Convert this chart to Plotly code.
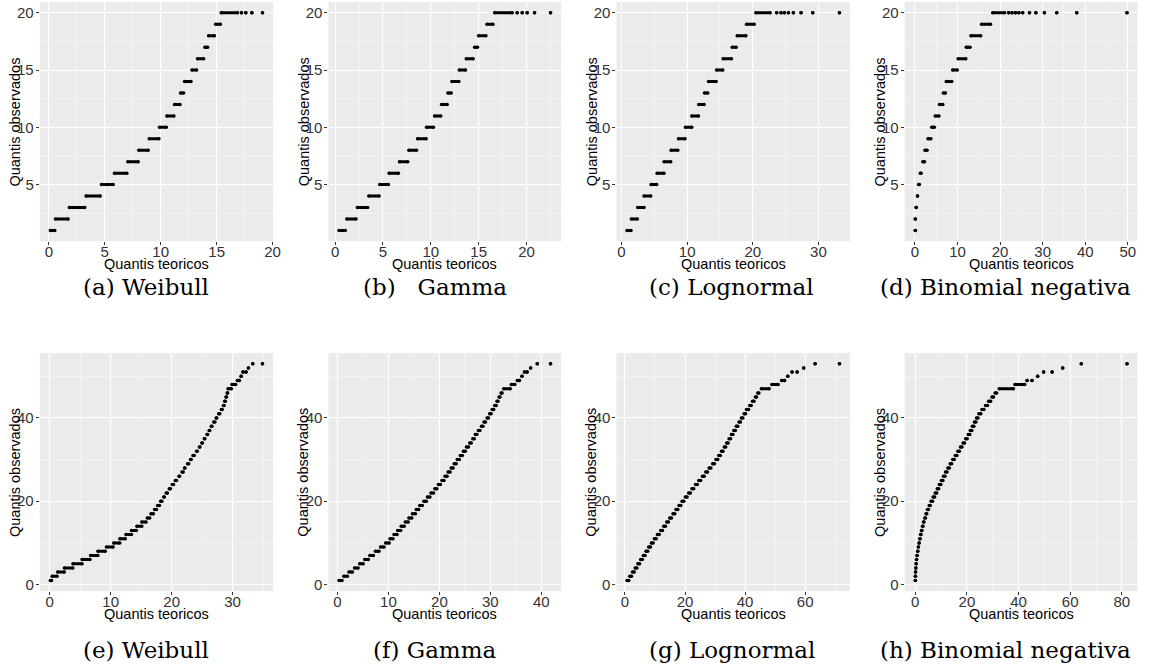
import plotly.graph_objects as go

# ---------------------------------------------------------------
# Q-Q plots: observed quantiles vs. theoretical quantiles.
# Each row of (obs, q_lo, q_hi) is one observed level and the span of
# theoretical quantiles it covers (q_lo == q_hi for a single point).
# ---------------------------------------------------------------

# Top row: observed values 1..20
a_obs = [1, 2, 3, 4, 5, 6, 7, 8, 9, 10, 11, 12, 13, 14, 15, 16, 17, 18, 19, 20, 20, 20, 20, 20]
a_lo = [0.13, 0.58, 1.83, 3.32, 4.70, 5.86, 7.06, 8.04, 8.97, 9.89, 10.55, 11.23, 11.77, 12.13,
        12.79, 13.29, 13.95, 14.28, 14.91, 15.41, 17.22, 17.61, 18.15, 19.10]
a_hi = [0.53, 1.72, 3.21, 4.59, 5.75, 6.97, 7.99, 8.88, 9.84, 10.50, 11.18, 11.72, 12.05, 12.71,
        13.21, 13.84, 14.20, 14.80, 15.33, 16.87, 17.22, 17.61, 18.15, 19.10]

b_obs = [1, 2, 3, 4, 5, 6, 7, 8, 9, 10, 11, 12, 13, 14, 15, 16, 17, 18, 19, 20, 20, 20, 20, 20, 20]
b_lo = [0.40, 1.21, 2.32, 3.51, 4.66, 5.64, 6.72, 7.70, 8.61, 9.55, 10.39, 11.12, 11.78, 12.20,
        12.97, 13.70, 14.58, 14.99, 15.87, 16.67, 19.02, 19.55, 20.07, 20.84, 22.51]
b_hi = [1.06, 2.18, 3.40, 4.59, 5.56, 6.61, 7.59, 8.50, 9.51, 10.28, 11.04, 11.71, 12.13, 12.93,
        13.63, 14.43, 14.88, 15.76, 16.49, 18.51, 19.02, 19.55, 20.07, 20.84, 22.51]

c_obs = [1, 2, 3, 4, 5, 6, 7, 8, 9, 10, 11, 12, 13, 14, 15, 16, 17, 18, 19, 20,
         20, 20, 20, 20, 20, 20, 20, 20]
c_lo = [0.84, 1.50, 2.47, 3.43, 4.50, 5.42, 6.48, 7.55, 8.67, 9.74, 10.70, 11.77, 12.63, 13.25,
        14.47, 15.48, 16.86, 17.62, 19.04, 20.46, 23.64, 24.30, 24.81, 25.42, 26.18, 27.35, 29.13, 33.20]
c_hi = [1.45, 2.41, 3.43, 4.45, 5.36, 6.48, 7.50, 8.57, 9.68, 10.70, 11.72, 12.58, 13.14, 14.41,
        15.43, 16.75, 17.46, 18.94, 20.21, 22.65, 23.64, 24.30, 24.81, 25.42, 26.18, 27.35, 29.13, 33.20]

d_obs = [1, 2, 3, 4, 5, 6, 7, 8, 9, 10, 11, 12, 13, 14, 15, 16, 17, 18, 19, 20,
         20, 20, 20, 20, 20, 20, 20, 20, 20, 20, 20]
d_lo = [0.08, 0.08, 0.30, 0.60, 0.85, 1.25, 1.85, 2.35, 3.05, 3.95, 4.75, 5.75, 6.65, 7.35,
        8.85, 10.15, 12.05, 13.15, 15.65, 18.25, 22.0, 22.8, 23.6, 24.4, 25.3, 26.9, 28.4, 30.4,
        33.3, 38.0, 49.8]
d_hi = [0.08, 0.08, 0.30, 0.60, 1.05, 1.45, 2.25, 2.85, 3.75, 4.55, 5.65, 6.55, 7.15, 8.65,
        9.95, 11.95, 12.95, 15.45, 17.75, 21.05, 22.0, 22.8, 23.6, 24.4, 25.3, 26.9, 28.4, 30.4,
        33.3, 38.0, 49.8]

# Bottom row: observed values 1..53
low_obs = [1, 2, 3, 4, 5, 6, 7, 8, 9, 10, 11, 12, 13, 14, 15, 16, 17, 18, 19, 20,
           21, 22, 23, 24, 25, 26, 27, 28, 29, 30, 31, 32, 33, 34, 35, 36, 37, 38, 39, 40,
           41, 42, 43, 44, 45, 46, 47, 48, 49, 49, 50, 51, 51, 52, 53, 53]

e_lo = [0.10, 0.40, 1.30, 2.40, 3.80, 5.30, 6.70, 7.90, 9.30, 10.50, 11.50, 12.50, 13.40, 14.30,
        15.10, 16.00, 16.60, 17.20, 17.70, 18.20, 18.70, 19.10, 19.60, 20.10, 20.60, 21.20, 21.70,
        22.10, 22.60, 23.10, 23.50, 24.10, 24.55, 24.95, 25.35, 25.80, 26.15, 26.50, 26.90, 27.30,
        27.70, 28.15, 28.50, 28.70, 28.90, 29.10, 29.25, 29.90, 30.80, 31.10, 31.40, 31.70, 32.20,
        32.60, 33.30, 34.90]
e_hi = [0.30, 1.20, 2.40, 3.80, 5.30, 6.60, 7.90, 9.10, 10.40, 11.50, 12.40, 13.40, 14.20, 15.10,
        15.80, 16.40, 17.00, 17.50, 18.00, 18.40, 18.80, 19.30, 19.80, 20.30, 20.80, 21.30, 21.90,
        22.20, 22.80, 23.20, 23.70, 24.20, 24.65, 25.05, 25.45, 25.90, 26.25, 26.60, 27.10, 27.40,
        27.90, 28.30, 28.60, 28.80, 29.00, 29.20, 29.80, 30.50, 30.80, 31.10, 31.40, 31.70, 32.20,
        32.60, 33.30, 34.90]

f_lo = [0.30, 1.25, 2.25, 3.35, 4.35, 5.35, 6.35, 7.45, 8.45, 9.45, 10.30, 11.10, 11.80, 12.50,
        13.30, 14.00, 14.70, 15.45, 16.15, 16.95, 17.65, 18.35, 19.10, 19.80, 20.50, 21.10, 21.70,
        22.30, 22.90, 23.50, 24.10, 24.70, 25.30, 25.95, 26.55, 27.05, 27.65, 28.25, 28.75, 29.35,
        29.85, 30.35, 30.85, 31.30, 31.70, 32.10, 32.60, 34.10, 35.30, 35.70, 36.20, 36.70, 37.20,
        37.90, 39.20, 41.80]
f_hi = [0.90, 1.95, 2.95, 4.05, 5.05, 6.05, 7.05, 8.15, 9.15, 10.15, 10.90, 11.70, 12.40, 13.10,
        13.90, 14.60, 15.30, 15.95, 16.65, 17.45, 18.15, 18.85, 19.50, 20.20, 20.90, 21.50, 22.10,
        22.70, 23.30, 23.90, 24.50, 25.10, 25.70, 26.25, 26.85, 27.35, 27.95, 28.55, 29.05, 29.65,
        30.15, 30.65, 31.15, 31.50, 31.90, 32.30, 33.90, 34.80, 35.30, 35.70, 36.20, 36.70, 37.20,
        37.90, 39.20, 41.80]

g_lo = [0.70, 1.60, 2.50, 3.40, 4.30, 5.20, 6.10, 7.00, 7.90, 8.80, 9.80, 10.80, 11.90, 12.90,
        13.90, 14.90, 16.00, 17.00, 18.00, 19.00, 20.10, 21.20, 22.30, 23.50, 24.60, 25.80, 26.90,
        28.00, 29.20, 30.30, 31.25, 32.15, 33.05, 33.85, 34.65, 35.45, 36.25, 37.05, 37.95, 38.75,
        39.65, 40.45, 41.55, 42.45, 43.40, 44.20, 45.40, 48.90, 52.20, 53.10, 54.20, 55.60, 57.30,
        59.50, 63.30, 71.40]
g_hi = [1.30, 2.20, 3.10, 4.00, 4.90, 5.80, 6.70, 7.60, 8.50, 9.40, 10.40, 11.40, 12.50, 13.50,
        14.50, 15.50, 16.60, 17.60, 18.60, 19.60, 20.70, 21.80, 22.90, 24.10, 25.20, 26.40, 27.50,
        28.60, 29.80, 30.90, 31.75, 32.65, 33.55, 34.35, 35.15, 35.95, 36.75, 37.55, 38.45, 39.25,
        40.15, 41.15, 42.05, 42.95, 43.80, 44.60, 48.00, 51.00, 52.20, 53.10, 54.20, 55.60, 57.30,
        59.50, 63.30, 71.40]

h_lo = [0.00, 0.05, 0.10, 0.20, 0.35, 0.50, 0.70, 0.95, 1.20, 1.50, 1.70, 2.05, 2.40, 2.80,
        3.20, 3.65, 4.15, 4.70, 5.40, 6.10, 6.90, 7.70, 8.50, 9.30, 10.10, 10.90, 11.70, 12.60,
        13.50, 14.50, 15.50, 16.50, 17.50, 18.50, 19.50, 20.50, 21.30, 22.10, 22.90, 23.70, 24.60,
        25.80, 27.20, 28.40, 29.70, 30.90, 32.50, 38.60, 43.30, 45.20, 47.40, 49.70, 53.00, 57.10,
        64.30, 82.00]
h_hi = [0.00, 0.05, 0.10, 0.20, 0.35, 0.50, 0.70, 0.95, 1.20, 1.50, 1.90, 2.25, 2.60, 3.00,
        3.40, 3.95, 4.45, 5.10, 5.80, 6.70, 7.50, 8.30, 9.10, 9.90, 10.70, 11.50, 12.30, 13.20,
        14.10, 15.10, 16.10, 17.10, 18.10, 19.10, 20.10, 21.10, 21.90, 22.70, 23.50, 24.30, 25.40,
        26.60, 28.00, 29.20, 30.30, 31.50, 38.00, 42.40, 43.30, 45.20, 47.40, 49.70, 53.00, 57.10,
        64.30, 82.00]

# Axis ticks
top_yticks = [5, 10, 15, 20]
low_yticks = [0, 20, 40]
a_xticks = [0, 5, 10, 15, 20]
b_xticks = [0, 5, 10, 15, 20]
c_xticks = [0, 10, 20, 30]
d_xticks = [0, 10, 20, 30, 40, 50]
e_xticks = [0, 10, 20, 30]
f_xticks = [0, 10, 20, 30, 40]
g_xticks = [0, 20, 40, 60]
h_xticks = [0, 20, 40, 60, 80]

captions = ["(a) Weibull", "(b)\u00a0\u00a0 Gamma", "(c) Lognormal", "(d) Binomial negativa",
            "(e) Weibull", "(f) Gamma", "(g) Lognormal", "(h) Binomial negativa"]

x_title = "Quantis teoricos"
y_title = "Quantis observados"

# ---------------------------------------------------------------
W, H = 1156, 671
col_left = [40, 330.7, 620.7, 911]
col_right = [275, 565, 856, 1145.5]
row_top = [2, 354]
row_bottom = [242, 593]
caption_x = [147, 438, 737, 1013]
caption_y = [288, 652]

panels = [
    (a_obs, a_lo, a_hi, a_xticks, top_yticks),
    (b_obs, b_lo, b_hi, b_xticks, top_yticks),
    (c_obs, c_lo, c_hi, c_xticks, top_yticks),
    (d_obs, d_lo, d_hi, d_xticks, top_yticks),
    (low_obs, e_lo, e_hi, e_xticks, low_yticks),
    (low_obs, f_lo, f_hi, f_xticks, low_yticks),
    (low_obs, g_lo, g_hi, g_xticks, low_yticks),
    (low_obs, h_lo, h_hi, h_xticks, low_yticks),
]

TICK_FONT = dict(family="Liberation Sans, Arial, sans-serif", size=15, color="#333333")
TITLE_FONT = dict(family="Liberation Sans, Arial, sans-serif", size=14.5, color="black")
CAPTION_FONT = dict(family="DejaVu Serif, Liberation Serif, serif", size=23, color="black")


def expanded(lo, hi, frac=0.05):
    span = hi - lo
    return [lo - frac * span, hi + frac * span]


def minor_between(ticks):
    step = ticks[1] - ticks[0]
    ext = [ticks[0] - step] + list(ticks) + [ticks[-1] + step]
    return [(p + q) / 2 for p, q in zip(ext[:-1], ext[1:])]


fig = go.Figure()
layout = dict(
    width=W, height=H, margin=dict(l=0, r=0, t=0, b=0),
    paper_bgcolor="white", plot_bgcolor="#EBEBEB", showlegend=False,
    annotations=[],
)

for i, (obs, lo, hi, xt, yt) in enumerate(panels):
    n = i + 1
    r, c = divmod(i, 4)
    xs, ys = [], []
    for o, l, h in zip(obs, lo, hi):
        xs += [l, h, None]
        ys += [o, o, None]
    suffix = "" if n == 1 else str(n)
    fig.add_trace(go.Scatter(
        x=xs, y=ys, mode="lines+markers",
        line=dict(color="black", width=3),
        marker=dict(color="black", size=3.5),
        xaxis="x" + suffix, yaxis="y" + suffix,
        hoverinfo="skip", connectgaps=False,
    ))

    xr = expanded(min(lo), max(hi))
    yr = expanded(min(obs), max(obs))
    axis_common = dict(
        showline=False, zeroline=False, showgrid=True,
        gridcolor="white", gridwidth=1.1,
        ticks="outside", ticklen=3, tickwidth=1, tickcolor="#333333",
        tickfont=TICK_FONT, tickmode="array",
    )
    layout["xaxis" + suffix] = dict(
        axis_common,
        domain=[col_left[c] / W, col_right[c] / W],
        anchor="y" + suffix, range=xr, tickvals=xt,
        ticklabelstandoff=-6,
        minor=dict(tickvals=minor_between(xt), showgrid=True,
                   gridcolor="#F3F3F3", gridwidth=0.6, ticks=""),
    )
    layout["yaxis" + suffix] = dict(
        axis_common,
        domain=[1 - row_bottom[r] / H, 1 - row_top[r] / H],
        anchor="x" + suffix, range=yr, tickvals=yt,
        ticklabelstandoff=-1,
        minor=dict(tickvals=minor_between(yt), showgrid=True,
                   gridcolor="#F3F3F3", gridwidth=0.6, ticks=""),
    )

    cx = (col_left[c] + col_right[c]) / 2
    cy = (row_top[r] + row_bottom[r]) / 2
    layout["annotations"].append(dict(
        text=x_title, x=cx / W, y=1 - (row_bottom[r] + 23) / H,
        xref="paper", yref="paper", showarrow=False, font=TITLE_FONT,
        xanchor="center", yanchor="middle",
    ))
    layout["annotations"].append(dict(
        text=y_title, x=(col_left[c] - 25) / W, y=1 - cy / H,
        xref="paper", yref="paper", showarrow=False, font=TITLE_FONT,
        textangle=-90, xanchor="center", yanchor="middle",
    ))
    layout["annotations"].append(dict(
        text=captions[i], x=caption_x[c] / W, y=1 - caption_y[r] / H,
        xref="paper", yref="paper", showarrow=False, font=CAPTION_FONT,
        xanchor="center", yanchor="middle",
    ))

fig.update_layout(**layout)
fig.write_html("out.html")
